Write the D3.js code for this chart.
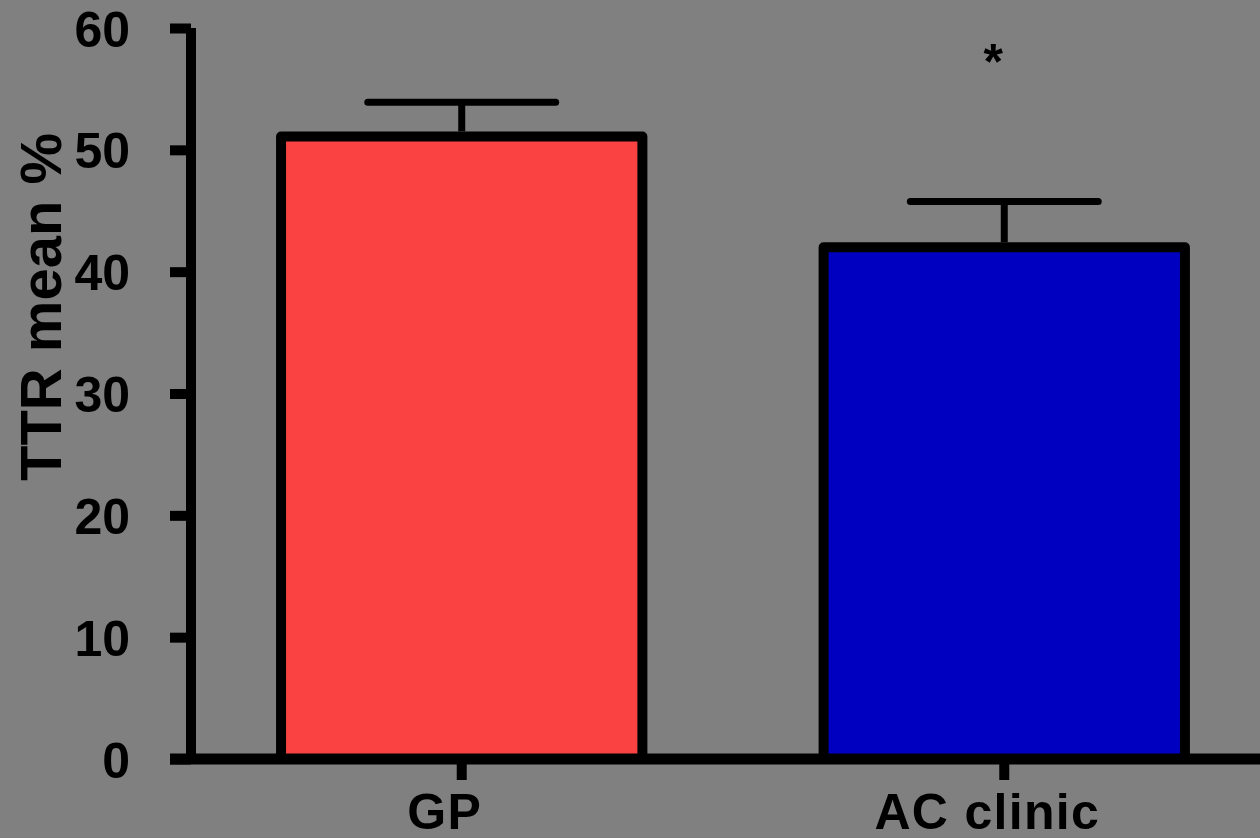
<!DOCTYPE html>
<html>
<head>
<meta charset="utf-8">
<script src="https://cdn.jsdelivr.net/npm/d3@7"></script>
<style>
  html, body { margin: 0; padding: 0; background: #808080; }
  svg { display: block; }
  text { font-family: "Liberation Sans", Arial, sans-serif; font-weight: bold; fill: #000; }
</style>
</head>
<body>
<svg id="chart" width="1260" height="838"></svg>
<script>
// data
const groups = ["GP", "AC clinic"]
const means  = [51.1, 42.0]
const sems   = [2.8, 3.75]
const colors = ["#FB4242", "#0000C0"]
const yTicks = [0, 10, 20, 30, 40, 50, 60]
const sigMarks = ["", "*"]

const width  = 1260
const height = 838

const svg = d3.select("#chart")

svg.append("rect")
  .attr("width", width).attr("height", height)
  .attr("fill", "#808080")

// scales
const y = d3.scaleLinear()
  .domain([0, 60])
  .range([759, 28])

const x = d3.scaleBand()
  .domain(groups)
  .range([191, 1275])
  .paddingInner(0.334)
  .paddingOuter(0.166)

// bars
const bars = svg.append("g")
groups.forEach((g, i) => {
  bars.append("rect")
    .attr("x", x(g))
    .attr("y", y(means[i]))
    .attr("width", x.bandwidth())
    .attr("height", y(0) - y(means[i]))
    .attr("fill", colors[i])
    .attr("stroke", "#000")
    .attr("stroke-width", 10)
    .attr("stroke-linejoin", "round")
})

// error bars (upper only)
const errs = svg.append("g")
  .attr("stroke", "#000")
  .attr("stroke-width", 7)
  .attr("stroke-linecap", "round")
groups.forEach((g, i) => {
  const cx = x(g) + x.bandwidth() / 2
  const top = y(means[i] + sems[i])
  const hw = x.bandwidth() * 0.26
  errs.append("line")
    .attr("x1", cx).attr("x2", cx)
    .attr("y1", y(means[i]) - 5).attr("y2", top)
    .attr("stroke-linecap", "butt")
  errs.append("line")
    .attr("x1", cx - hw).attr("x2", cx + hw)
    .attr("y1", top).attr("y2", top)
})

// significance marks
groups.forEach((g, i) => {
  if (!sigMarks[i]) return
  svg.append("text")
    .attr("x", x(g) + x.bandwidth() / 2 - 11)
    .attr("y", 79)
    .attr("text-anchor", "middle")
    .attr("font-size", 50)
    .text(sigMarks[i])
})

// y axis
const yAxis = d3.axisLeft(y)
  .tickValues(yTicks)
  .tickSize(21)
  .tickSizeOuter(0)
  .tickPadding(40)

const gy = svg.append("g")
  .attr("transform", "translate(191,0)")
  .call(yAxis)
gy.select(".domain").remove()
gy.selectAll(".tick line")
  .attr("stroke", "#000")
  .attr("stroke-width", 10)
gy.selectAll(".tick text")
  .attr("font-size", 50)
  .attr("font-family", "Liberation Sans, Arial, sans-serif")
  .attr("font-weight", "bold")
  .attr("fill", "#000")
  .attr("dy", "0.36em")

svg.append("line")
  .attr("x1", 191).attr("x2", 191)
  .attr("y1", y(60)).attr("y2", y(0) + 5)
  .attr("stroke", "#000")
  .attr("stroke-width", 10)

// x axis
svg.append("line")
  .attr("x1", 170).attr("x2", width)
  .attr("y1", y(0)).attr("y2", y(0))
  .attr("stroke", "#000")
  .attr("stroke-width", 11)

const xAxis = d3.axisBottom(x)
  .tickSize(21)
  .tickSizeOuter(0)
  .tickPadding(12)

const gx = svg.append("g")
  .attr("transform", `translate(0,${y(0)})`)
  .call(xAxis)
gx.select(".domain").remove()
gx.selectAll(".tick line")
  .attr("stroke", "#000")
  .attr("stroke-width", 10)
gx.selectAll(".tick text")
  .attr("font-size", 50)
  .attr("font-family", "Liberation Sans, Arial, sans-serif")
  .attr("font-weight", "bold")
  .attr("fill", "#000")
  .attr("letter-spacing", "1.3px")
  .attr("dy", null)
  .attr("y", 70)
  .attr("dx", -17)

// y axis title
svg.append("text")
  .attr("transform", "translate(61,307) rotate(-90)")
  .attr("text-anchor", "middle")
  .attr("font-size", 58)
  .text("TTR mean %")
</script>
</body>
</html>
